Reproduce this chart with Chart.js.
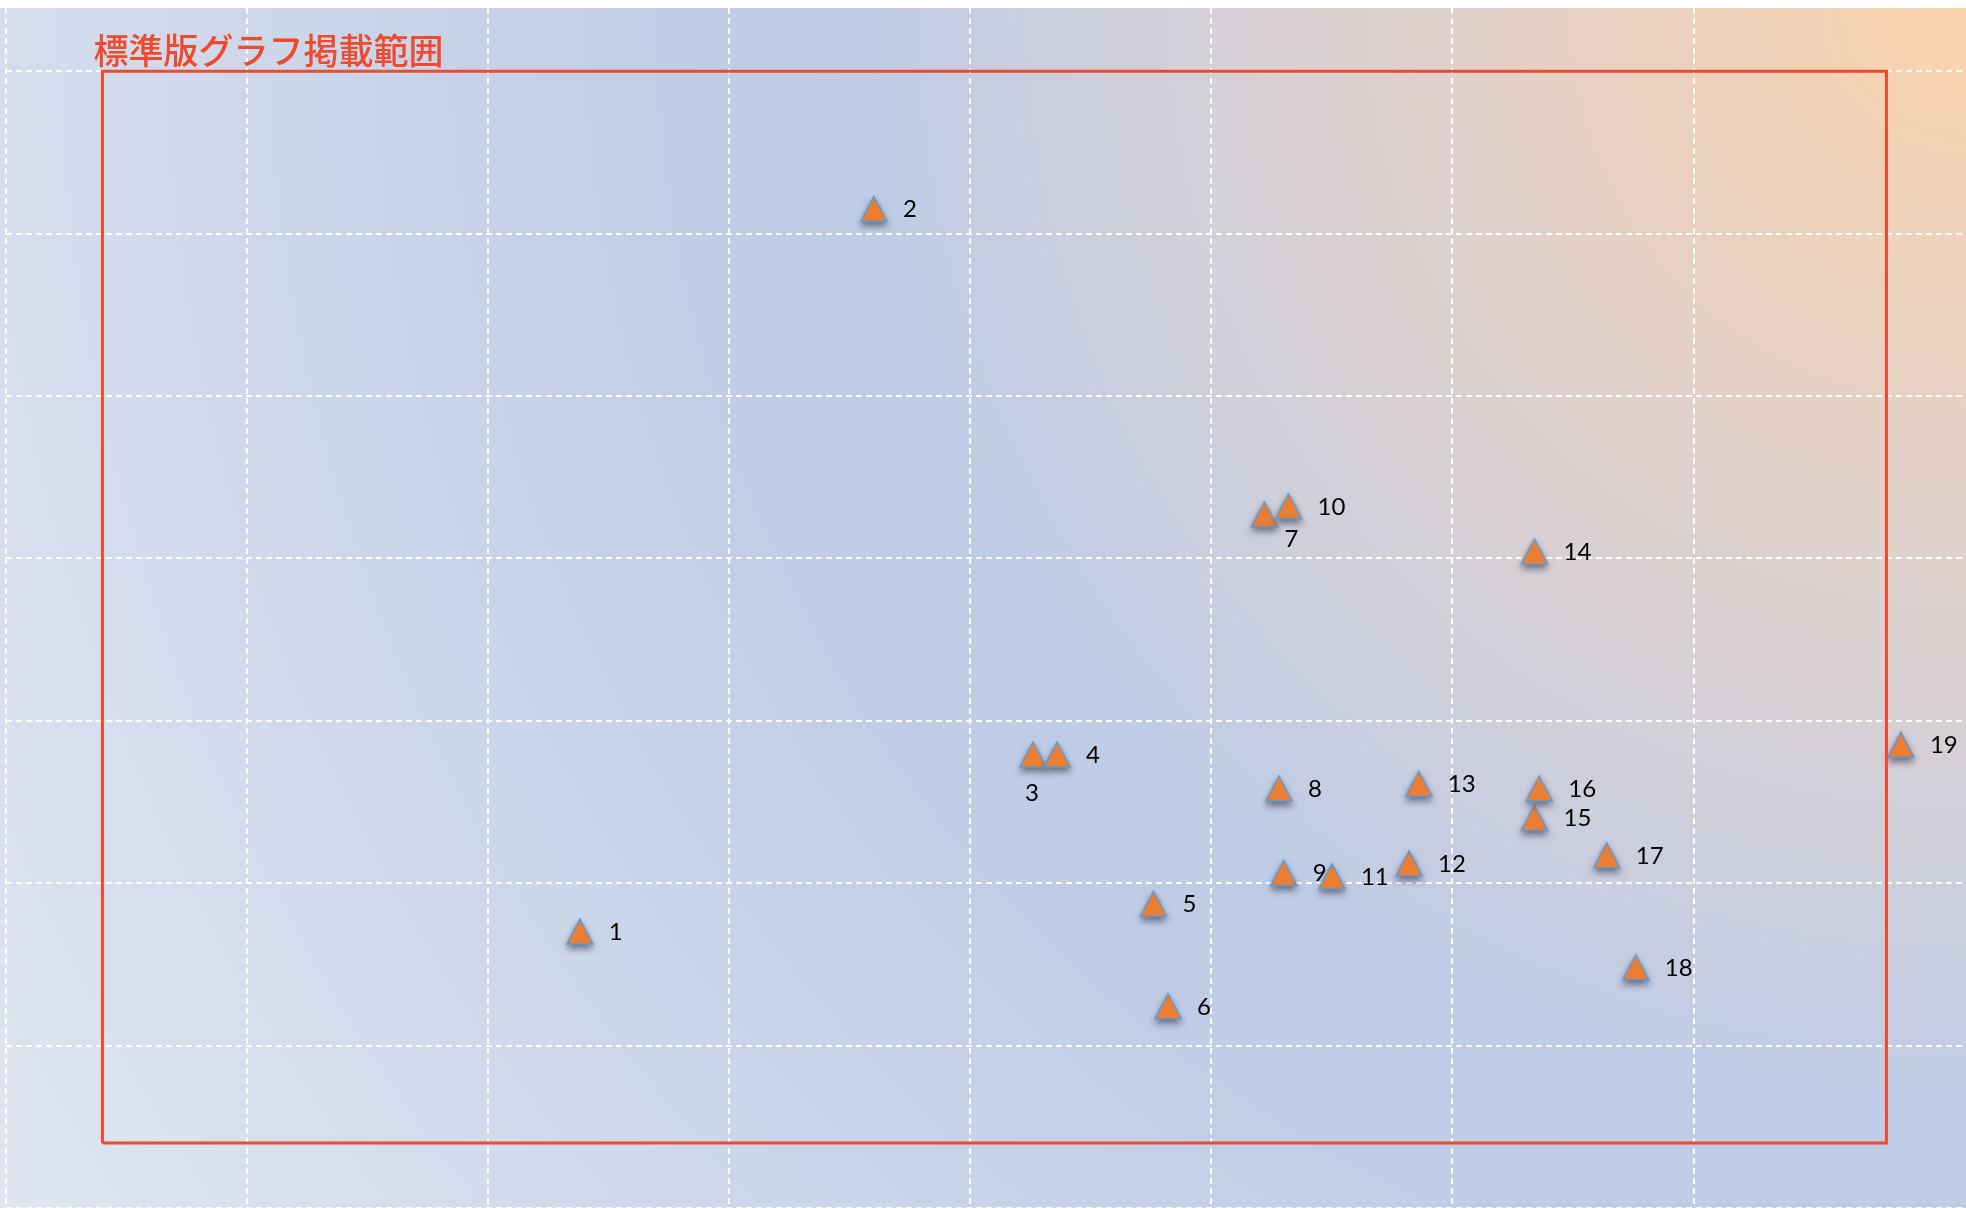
<!DOCTYPE html>
<html>
<head>
<meta charset="utf-8">
<script src="https://cdn.jsdelivr.net/npm/chart.js@4/dist/chart.umd.min.js"></script>
<style>
  html, body { margin: 0; padding: 0; background: #ffffff; }
  #wrap { width: 1966px; height: 1208px; }
</style>
</head>
<body>
<div id="wrap"><canvas id="myScatter" width="1966" height="1208"></canvas></div>
<script>
// point numbers and positions (grid step = 10)
var labels = ['1', '2', '3', '4', '5', '6', '7', '8', '9', '10', '11', '12', '13', '14', '15', '16', '17', '18', '19'];
var xValues = [23.8, 36.0, 42.6, 43.6, 47.6, 48.2, 52.2, 52.8, 53.0, 53.2, 55.0, 58.2, 58.6, 63.4, 63.4, 63.6, 66.4, 67.6, 78.6];
var yValues = [17.0, 61.5, 27.9, 27.9, 18.7, 12.4, 42.7, 25.8, 20.6, 43.2, 20.4, 21.2, 26.1, 40.4, 24.0, 25.8, 21.7, 14.8, 28.5];

// the "standard edition" frame
var frameTitle = '標準版グラフ掲載範囲';
var frameX = [4, 4, 78, 78, 4];
var frameY = [4, 70, 70, 4, 4];

var xMax = 81.3;
var yMax = 73.9;

var red = '#ee4a2b';

var points = labels.map(function (l, i) { return { x: xValues[i], y: yValues[i] }; });
var frame = frameX.map(function (x, i) { return { x: x, y: frameY[i] }; });

// labels that are not placed to the right of the marker
var labelPlacement = {
    '3': { dx: -1, dy: 46, align: 'center' },
    '7': { dx: 27, dy: 32, align: 'center' }
};

// Excel-like triangle marker (a bit taller than equilateral)
function makeMarker() {
    var c = document.createElement('canvas');
    c.width = 30;
    c.height = 34;
    var m = c.getContext('2d');
    m.beginPath();
    m.moveTo(15, 4);
    m.lineTo(28, 29);
    m.lineTo(2, 29);
    m.closePath();
    m.fillStyle = '#ed7d31';
    m.fill();
    m.lineWidth = 1.5;
    m.strokeStyle = '#5b9bd5';
    m.stroke();
    return c;
}

// gradient fill behind the plot
var backgroundPlugin = {
    id: 'bg',
    beforeDraw: function (chart) {
        var ctx = chart.ctx;
        var top = chart.chartArea.top;
        var w = chart.width, h = chart.height;
        var r = Math.sqrt(w * w + (h - top) * (h - top));
        var g = ctx.createRadialGradient(w, top, 0, w, top, r);
        g.addColorStop(0, '#fad3ad');
        g.addColorStop(0.2, '#e3d1c8');
        g.addColorStop(0.34, '#d3d0d8');
        g.addColorStop(0.48, '#bfcce6');
        g.addColorStop(0.56, '#c1cde6');
        g.addColorStop(0.82, '#d3dcec');
        g.addColorStop(1, '#dfe6f1');
        ctx.save();
        ctx.fillStyle = g;
        ctx.fillRect(0, top, w, h - top);
        ctx.restore();
    }
};

// number labels (under the markers) and frame title
var labelPlugin = {
    id: 'pointLabels',
    beforeDatasetsDraw: function (chart) {
        var ctx = chart.ctx;
        var meta = chart.getDatasetMeta(1);
        ctx.save();
        ctx.font = '24px Lato, sans-serif';
        ctx.fillStyle = '#000000';
        ctx.textBaseline = 'alphabetic';
        meta.data.forEach(function (pt, i) {
            var p = labelPlacement[labels[i]] || { dx: 29, dy: 8, align: 'left' };
            ctx.textAlign = p.align;
            ctx.fillText(labels[i], pt.x + p.dx, pt.y + p.dy);
        });
        var xs = chart.scales.x, ys = chart.scales.y;
        ctx.font = '500 35px "Noto Sans CJK JP", sans-serif';
        ctx.fillStyle = red;
        ctx.textAlign = 'left';
        ctx.textBaseline = 'middle';
        ctx.fillText(frameTitle, xs.getPixelForValue(frameX[0]) - 9, ys.getPixelForValue(frameY[1]) - 21);
        ctx.restore();
    },
    beforeDatasetDraw: function (chart, args) {
        if (args.index !== 1) return;
        var ctx = chart.ctx;
        ctx.save();
        ctx.shadowColor = 'rgba(40, 40, 60, 0.6)';
        ctx.shadowBlur = 7;
        ctx.shadowOffsetY = 4;
    },
    afterDatasetDraw: function (chart, args) {
        if (args.index !== 1) return;
        chart.ctx.restore();
    }
};

function keepWhole(scale) {
    scale.ticks = scale.ticks.filter(function (t) { return t.value % 10 === 0; });
}

var gridOpts = {
    color: 'rgba(255, 255, 255, 0.92)',
    lineWidth: 2,
    drawTicks: false
};

var ctx = document.getElementById('myScatter').getContext('2d');
var myScatter = new Chart(ctx, {
    type: 'scatter',
    data: {
        datasets: [{
            data: frame,
            showLine: true,
            borderColor: red,
            borderWidth: 3,
            pointRadius: 0,
            fill: false,
            tension: 0
        }, {
            data: points,
            pointStyle: makeMarker(),
            pointRadius: 15
        }]
    },
    options: {
        responsive: false,
        animation: false,
        events: [],
        layout: {
            autoPadding: false,
            padding: { left: 6, top: 8, right: 0, bottom: 0 }
        },
        plugins: {
            legend: { display: false },
            tooltip: { enabled: false }
        },
        scales: {
            x: {
                type: 'linear',
                min: 0,
                max: xMax,
                ticks: { display: false, stepSize: 10 },
                afterBuildTicks: keepWhole,
                border: { display: false, dash: [6, 4] },
                grid: gridOpts
            },
            y: {
                type: 'linear',
                min: 0,
                max: yMax,
                ticks: { display: false, stepSize: 10 },
                afterBuildTicks: keepWhole,
                border: { display: false, dash: [6, 4] },
                grid: gridOpts
            }
        }
    },
    plugins: [backgroundPlugin, labelPlugin]
});
</script>
</body>
</html>
